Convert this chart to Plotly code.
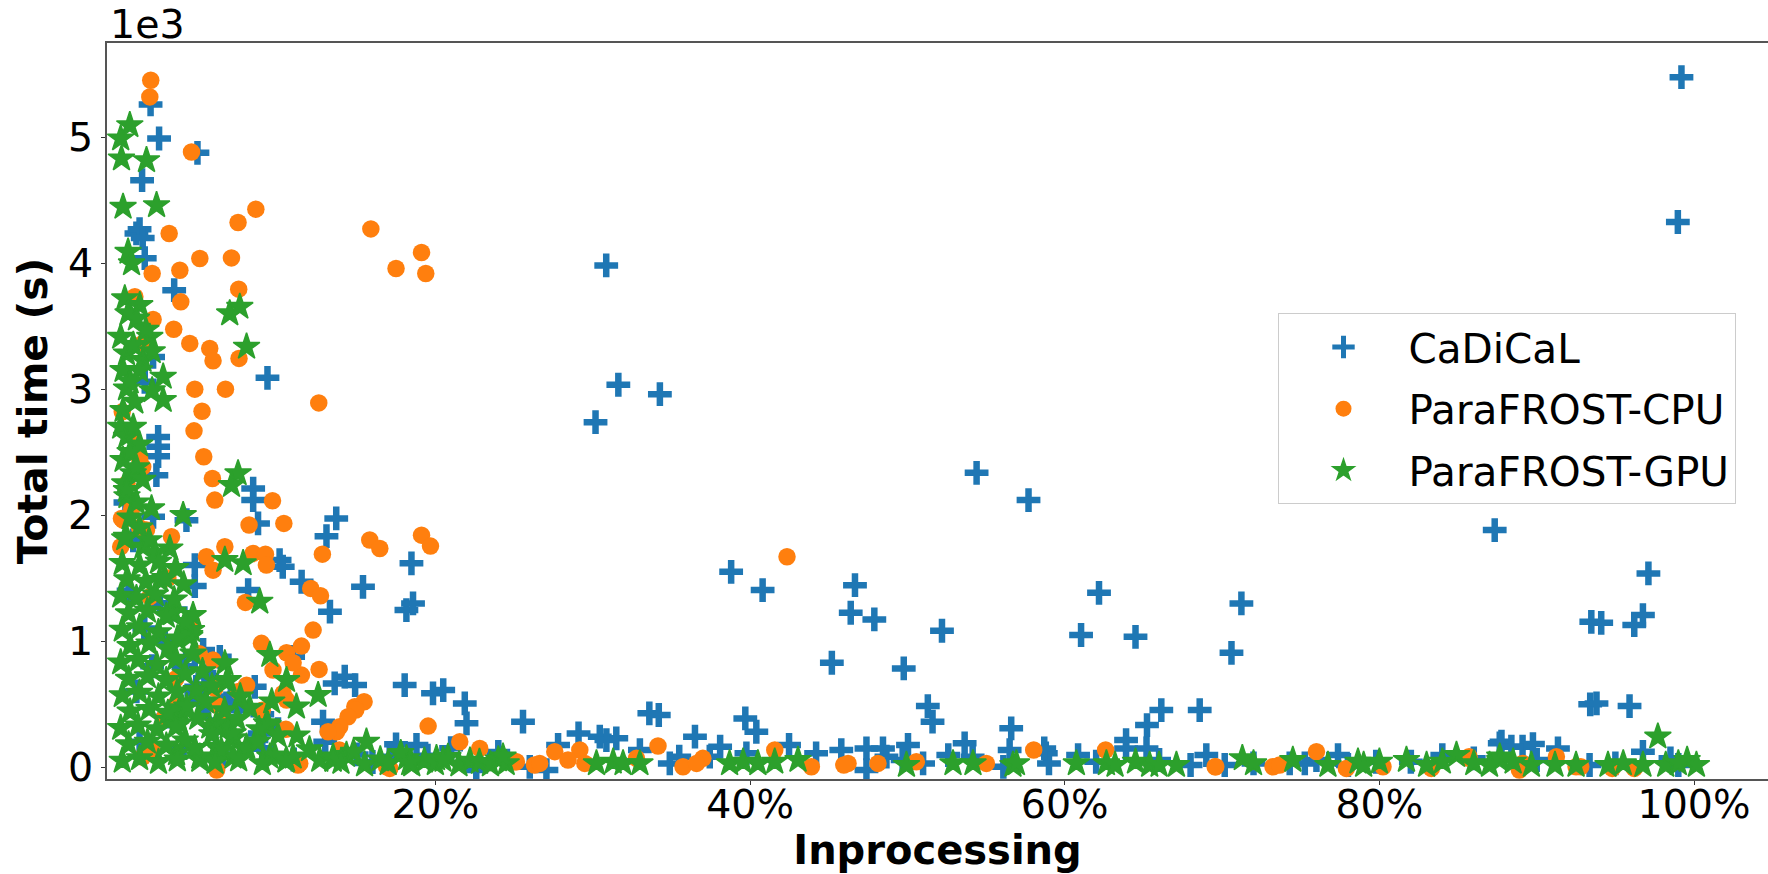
import plotly.graph_objects as go

BLUE = '#1f77b4'
ORANGE = '#ff7f0e'
GREEN = '#2ca02c'
FONT = 'DejaVu Sans'

series_names = ['CaDiCaL', 'ParaFROST-CPU', 'ParaFROST-GPU']
x_tick_vals = [0.2, 0.4, 0.6, 0.8, 1.0]
x_tick_text = ['20%', '40%', '60%', '80%', '100%']
y_tick_vals = [0, 1000, 2000, 3000, 4000, 5000]
y_tick_text = ['0', '1', '2', '3', '4', '5']

# (inprocessing fraction, total time in s)
cadical = [
    (0.019, 5260), (0.0244, 4990), (0.0488, 4876), (0.0136, 4659), (0.010, 4236), (0.012, 4270),
    (0.014, 4200), (0.0153, 4040), (0.034, 3786), (0.0933, 3090), (0.0206, 3256), (0.0153, 3058),
    (0.0238, 2621), (0.0238, 2542), (0.0238, 2468), (0.0227, 2317), (0.0842, 2211), (0.0842, 2119),
    (0.0873, 1934), (0.137, 1974), (0.1308, 1833), (0.0206, 1986), (0.0418, 1960), (0.0471, 1603),
    (0.0471, 1437), (0.101, 1643), (0.103, 1590), (0.115, 1471), (0.133, 1233), (0.154, 1431),
    (0.1848, 1617), (0.1816, 1246), (0.1858, 1299), (0.081, 1405), (0.1424, 717), (0.149, 651),
    (0.136, 664), (0.0852, 637), (0.1805, 651), (0.1985, 585), (0.205, 611), (0.1286, 360),
    (0.188, 175), (0.1096, 875), (0.0524, 929), (0.048, 585), (0.0471, 889), (0.063, 875),
    (0.2187, 505), (0.2198, 347), (0.226, -24), (0.171, 82), (0.0587, 677), (0.0524, 505),
    (0.0672, 505), (0.0555, 466), (0.048, 637), (0.0503, 518), (0.0884, 267), (0.0863, 214),
    (0.005, 1400), (0.035, 1250), (0.028, 1000), (0.04, 800), (0.055, 720), (0.07, 560),
    (0.09, 420), (0.1, 300), (0.003, 2100), (0.008, 1800), (0.015, 1100), (0.025, 1300),
    (0.01, 600), (0.02, 800), (0.03, 400), (0.06, 300), (0.075, 450), (0.012, 200),
    (0.04, 150), (0.065, 100), (0.09, 150), (0.11, 60), (0.13, 200), (0.15, 100),
    (0.16, 40), (0.175, 180), (0.195, 90), (0.21, 150), (0.24, 120),
    (0.3018, 2738), (0.3086, 3982), (0.3163, 3035), (0.3427, 2960), (0.544, 2336), (0.577, 2119),
    (0.388, 1550), (0.408, 1405), (0.4667, 1444), (0.464, 1225), (0.479, 1172), (0.522, 1082),
    (0.452, 828), (0.4977, 783), (0.513, 484), (0.516, 360),
    (0.2557, 360), (0.336, 426), (0.342, 413), (0.291, 267), (0.3045, 241), (0.315, 228),
    (0.365, 241), (0.397, 386), (0.404, 280), (0.381, 161), (0.4248, 175), (0.442, 109),
    (0.458, 135), (0.474, 148), (0.4845, 148), (0.5004, 175), (0.5364, 188), (0.526, 95),
    (0.566, 307), (0.565, 135), (0.355, 82), (0.349, 29), (0.278, 175), (0.26, 2),
    (0.2706, -24), (0.33, 135), (0.3087, 214), (0.4867, 82), (0.474, -24), (0.51, 29),
    (0.561, 2), (0.5415, 82), (0.497, 56), (0.3977, 109), (0.3744, 82),
    (0.6218, 1383), (0.6104, 1048), (0.645, 1034), (0.7123, 1299), (0.706, 907), (0.6614, 452),
    (0.6858, 452), (0.6523, 333), (0.8733, 1881), (0.639, 148), (0.652, 148), (0.6085, 95),
    (0.588, 109), (0.590, 29), (0.680, 16), (0.7017, 16), (0.743, 29), (0.7526, 29),
    (0.7737, 95), (0.798, 42), (0.8765, 188), (0.891, 161), (0.639, 214), (0.587, 148),
    (0.992, 5477), (0.9897, 4327), (0.971, 1537), (0.9675, 1206), (0.962, 1127), (0.9347, 1153),
    (0.941, 1145), (0.934, 498), (0.938, 505), (0.959, 484), (0.8976, 182), (0.9135, 148),
    (0.8776, 201), (0.8839, 161), (0.9675, 121), (0.9336, 16),
    (0.62, 42), (0.66, 56), (0.69, 95), (0.72, 29), (0.76, 56), (0.78, 16), (0.82, 42),
    (0.84, 95), (0.86, 69), (0.90, 56), (0.95, 29), (0.985, 69), (0.99, 16),
]

parafrost_cpu = [
    (0.0191, 5452), (0.0185, 5320), (0.045, 4883), (0.0859, 4429), (0.0746, 4323), (0.159, 4272),
    (0.0308, 4236), (0.0503, 4037), (0.0704, 4042), (0.0376, 3944), (0.020, 3918), (0.1912, 4085),
    (0.175, 3958), (0.1939, 3918), (0.075, 3794), (0.0382, 3693), (0.009, 3733), (0.0206, 3553),
    (0.0337, 3476), (0.0439, 3363), (0.0566, 3323), (0.0587, 3225), (0.0752, 3244), (0.0471, 3000),
    (0.0666, 3000), (0.1259, 2891), (0.0517, 2825), (0.0466, 2669), (0.014, 3363), (0.001, 2820),
    (0.0528, 2463), (0.0583, 2291), (0.0598, 2119), (0.0965, 2114), (0.0816, 1921), (0.1037, 1934),
    (0.1583, 1802), (0.1647, 1735), (0.1912, 1841), (0.1969, 1754), (0.1282, 1690), (0.0662, 1749),
    (0.0545, 1669), (0.0587, 1563), (0.0841, 1696), (0.092, 1690), (0.0926, 1603), (0.1208, 1418),
    (0.127, 1360), (0.0793, 1307), (0.1223, 1087), (0.1149, 960), (0.0895, 982), (0.1054, 907),
    (0.1261, 775), (0.1149, 730), (0.1096, 828), (0.0968, 770), (0.1032, 585), (0.1054, 532),
    (0.1547, 518), (0.1488, 479), (0.1494, 452), (0.1445, 399), (0.1392, 320), (0.1372, 280),
    (0.1318, 280), (0.1954, 325), (0.0587, 849), (0.0598, 624), (0.0609, 492), (0.0323, 1828),
    (0.0164, 1881), (0.014, 2383), (0.0005, 1974), (0.0, 1749), (0.0355, 505), (0.1127, 16),
    (0.169, 2), (0.006, 2650), (0.012, 2450), (0.004, 2250), (0.007, 2050), (0.012, 1900),
    (0.0015, 1960), (0.0185, 1351), (0.029, 399), (0.2155, 201), (0.2282, 148), (0.2515, 42),
    (0.1138, 29), (0.139, 135), (0.171, -11), (0.03, 1500), (0.045, 1150), (0.05, 900),
    (0.035, 700), (0.075, 600), (0.09, 450), (0.105, 300), (0.065, 400), (0.08, 650),
    (0.014, 80), (0.02, 130), (0.028, 399), (0.061, -24),
    (0.4235, 1669), (0.3415, 167), (0.2505, 42), (0.263, 16), (0.2759, 122), (0.2918, 135),
    (0.2843, 56), (0.295, 29), (0.3278, 69), (0.3574, 2), (0.370, 69), (0.366, 29),
    (0.4157, 135), (0.439, 2), (0.4623, 29), (0.4813, 29), (0.5057, 42), (0.5502, 29),
    (0.2663, 29), (0.4596, 16), (0.5803, 135), (0.626, 135), (0.696, 2), (0.7324, 2),
    (0.7366, 16), (0.76, 122), (0.779, -11), (0.8023, 2), (0.833, -11), (0.857, 82),
    (0.891, 29), (0.9125, 82), (0.925, 2), (0.948, -11), (0.962, -11), (0.889, -24),
    (0.6956, 2), (0.856, 71), (0.928, 2),
]

parafrost_gpu = [
    (0.0058, 5095), (0.0, 4990), (0.0005, 4831), (0.0164, 4817), (0.0015, 4447), (0.0228, 4460),
    (0.0047, 4090), (0.0069, 3998), (0.0026, 3720), (0.0121, 3667), (0.0047, 3601), (0.0693, 3601),
    (0.0757, 3653), (0.080, 3336), (0.0185, 3415), (0.0, 3415), (0.0037, 3283), (0.0142, 3230),
    (0.027, 3098), (0.0015, 3151), (0.0037, 3005), (0.027, 2913), (0.0015, 2833), (0.0, 2701),
    (0.010, 3560), (0.016, 3470), (0.008, 3350), (0.020, 3300), (0.012, 3150), (0.006, 3060),
    (0.020, 2990), (0.009, 2900),
    (0.0037, 2621), (0.0015, 2437), (0.0026, 2252), (0.0079, 2331), (0.0196, 2053), (0.0397, 2000),
    (0.0746, 2331), (0.0704, 2238), (0.0037, 1828), (0.0142, 1749), (0.0312, 1735), (0.0662, 1643),
    (0.0778, 1617), (0.0884, 1312), (0.0248, 1484), (0.0333, 1233), (0.046, 1206), (0.045, 1087),
    (0.0662, 823), (0.0672, 677), (0.0948, 889), (0.1054, 690), (0.1255, 571), (0.1117, 479),
    (0.0927, 347), (0.1562, 201), (0.1816, 69), (0.2007, 69), (0.1435, 95), (0.1265, 56),
    (0.0312, 373), (0.0376, 466), (0.0609, 347), (0.0714, 228), (0.08, 161),
    (0.008, 2700), (0.012, 2560), (0.006, 2500), (0.010, 2380), (0.014, 2280), (0.004, 2150),
    (0.010, 2100), (0.006, 1980), (0.012, 1900), (0.018, 1800), (0.022, 1700), (0.0037, 2198),
    (0.0026, 1815), (0.0323, 1220), (0.0439, 1034), (0.0439, 1048), (0.0683, 690), (0.0376, 452),
    (0.0683, 320), (0.0937, 333), (0.0714, 267), (0.0376, 347), (0.0566, 320), (0.08, 135),
    (0.0609, 161), (0.0503, 56), (0.0355, 109), (0.0948, 82), (0.1096, 82), (0.135, 82),
    (0.0714, 82), (0.0503, 82), (0.1054, 56), (0.135, 56),
    (0.001, 1620), (0.012, 1600), (0.024, 1630), (0.035, 1580),
    (0.004, 1490), (0.016, 1470), (0.028, 1500), (0.040, 1450),
    (0.000, 1360), (0.010, 1340), (0.022, 1370), (0.034, 1330),
    (0.005, 1220), (0.017, 1240), (0.029, 1200), (0.041, 1150),
    (0.001, 1090), (0.012, 1110), (0.024, 1070), (0.036, 1020),
    (0.006, 960), (0.018, 980), (0.030, 940),
    (0.000, 830), (0.011, 850), (0.023, 810), (0.035, 860), (0.046, 900),
    (0.005, 700), (0.017, 720), (0.029, 690), (0.041, 740),
    (0.001, 570), (0.012, 590), (0.024, 560), (0.036, 600), (0.048, 610),
    (0.006, 440), (0.018, 460), (0.030, 430), (0.042, 480),
    (0.000, 310), (0.011, 330), (0.023, 300), (0.035, 320),
    (0.005, 180), (0.017, 200), (0.029, 170), (0.041, 210),
    (0.001, 50), (0.012, 70), (0.024, 40), (0.036, 60),
    (0.052, 760), (0.058, 640), (0.076, 560), (0.054, 520), (0.066, 450), (0.082, 470),
    (0.096, 520), (0.049, 390), (0.074, 380), (0.088, 300), (0.058, 260), (0.1, 250),
    (0.047, 150), (0.064, 130), (0.087, 200), (0.098, 90), (0.06, 40), (0.075, 60),
    (0.09, 30), (0.105, 50), (0.112, 250), (0.12, 140), (0.135, 60),
    (0.14, 40), (0.148, 120), (0.155, 20), (0.165, 60), (0.17, 30), (0.178, 110),
    (0.185, 20), (0.193, 50), (0.2, 30), (0.208, 80), (0.215, 20), (0.222, 50),
    (0.228, 40), (0.235, 20), (0.24, 60), (0.245, 30),
    (0.2430, 82), (0.2049, 56), (0.1837, 29), (0.3024, 29), (0.313, 42), (0.3193, 29),
    (0.33, 29), (0.387, 29), (0.3956, 42), (0.405, 29), (0.4157, 42), (0.4305, 56),
    (0.4994, 16), (0.529, 29), (0.5417, 29), (0.5671, 16), (0.5693, 29), (0.6074, 29),
    (0.6265, 29), (0.654, 16), (0.671, 16), (0.7129, 69), (0.7673, 16), (0.7864, 42),
    (0.8172, 56), (0.849, 95), (0.8765, 82), (0.8765, 56), (0.8966, 16), (0.9116, 16),
    (0.9453, 16), (0.9675, 16), (0.977, 241), (0.982, 16), (0.9956, 56), (1.0015, 16),
    (0.870, 16), (0.632, 16), (0.645, 42), (0.66, 16), (0.72, 29), (0.745, 56),
    (0.79, 16), (0.80, 42), (0.83, 16), (0.84, 42), (0.86, 29), (0.885, 42),
    (0.925, 16), (0.955, 29), (0.99, 29),
]

fig = go.Figure()
fig.add_trace(go.Scatter(
    x=[p[0] for p in cadical], y=[p[1] for p in cadical], mode='markers',
    name=series_names[0], legendgroup='g1',
    marker=dict(symbol='cross-thin', size=17, color=BLUE, line=dict(width=6.5, color=BLUE))))
fig.add_trace(go.Scatter(
    x=[p[0] for p in parafrost_cpu], y=[p[1] for p in parafrost_cpu], mode='markers',
    name=series_names[1], legendgroup='g2',
    marker=dict(symbol='circle', size=17.5, color=ORANGE, line=dict(width=0))))
fig.add_trace(go.Scatter(
    x=[p[0] for p in parafrost_gpu], y=[p[1] for p in parafrost_gpu], mode='markers',
    name=series_names[2], legendgroup='g3',
    marker=dict(symbol='star', size=20, color=GREEN, line=dict(width=1.5, color=GREEN))))

fig.update_layout(
    width=1768, height=874,
    margin=dict(l=107.3, r=0, t=42.7, b=95, pad=0),
    plot_bgcolor='white', paper_bgcolor='white',
    font=dict(family=FONT, size=39.5, color='black'),
    showlegend=True,
    legend=dict(x=0.7047, y=0.6329, xanchor='left', yanchor='top',
                bgcolor='rgba(255,255,255,0.8)', bordercolor='#cccccc', borderwidth=1,
                font=dict(family=FONT, size=40.5, color='black'),
                tracegroupgap=6, itemwidth=120, itemsizing='trace'),
)
fig.update_xaxes(
    range=[-0.0087, 1.047], tickvals=x_tick_vals, ticktext=x_tick_text,
    showline=True, linecolor='#555555', linewidth=1.8, mirror=True,
    ticks='outside', ticklen=4, tickwidth=1.3, tickcolor='#333333',
    showgrid=False, zeroline=False, ticklabelstandoff=-14,
    tickfont=dict(family=FONT, size=39.5, color='black'),
    title=dict(text='<b>Inprocessing</b>', font=dict(family=FONT, size=40, color='black'), standoff=3),
)
fig.update_yaxes(
    range=[-95, 5748], tickvals=y_tick_vals, ticktext=y_tick_text,
    showline=True, linecolor='#555555', linewidth=1.8, mirror=False,
    ticks='outside', ticklen=4, tickwidth=1.3, tickcolor='#333333',
    showgrid=False, zeroline=False,
    tickfont=dict(family=FONT, size=39.5, color='black'),
    title=dict(text='<b>Total time (s)</b>', font=dict(family=FONT, size=41, color='black'), standoff=8),
)
fig.add_annotation(text='1e3', xref='paper', yref='paper', x=0, y=1,
                   xanchor='left', yanchor='bottom', showarrow=False, xshift=1, yshift=-6,
                   font=dict(family=FONT, size=39.5, color='black'))

fig.write_html('out.html', config={'displayModeBar': False},
               post_script="document.body.style.margin='0px';document.body.style.overflow='hidden';")
